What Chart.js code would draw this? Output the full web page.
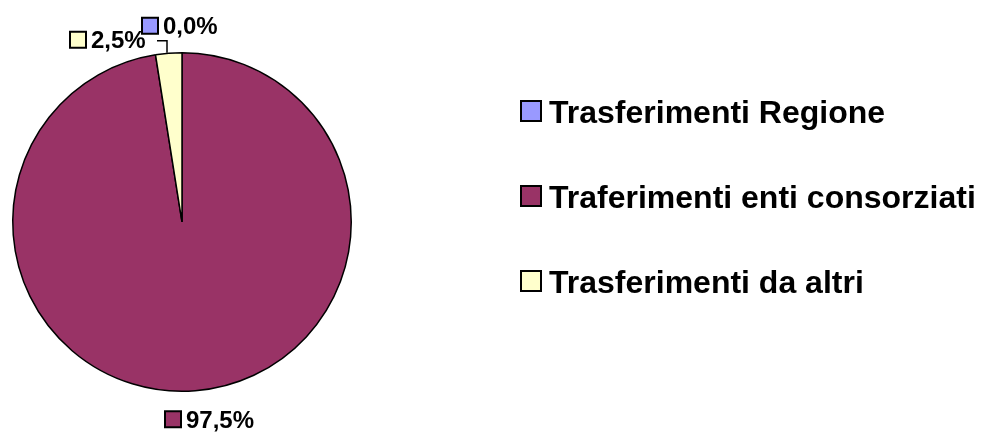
<!DOCTYPE html>
<html>
<head>
<meta charset="utf-8">
<script src="https://cdn.jsdelivr.net/npm/chart.js@4.4.0/dist/chart.umd.min.js"></script>
<style>
  html, body { margin: 0; padding: 0; background: #fff; }
  #wrap { width: 981px; height: 432px; }
</style>
</head>
<body>
<div id="wrap"><canvas id="myChart" width="981" height="432"></canvas></div>
<script>
// dati del grafico
const labels_n = ["Trasferimenti Regione", "Traferimenti enti consorziati", "Trasferimenti da altri"];
const data_n = [0.0, 97.5, 2.5];
const colori = ["#9999FF", "#993366", "#FFFFCC"];
const etichette = ["0,0%", "97,5%", "2,5%"];

// legenda disegnata a destra
const legendaPlugin = {
	id: "legenda",
	afterDraw(chart) {
		const c = chart.ctx;
		c.save();
		c.font = "bold 32px 'Liberation Sans', Arial, sans-serif";
		c.textBaseline = "alphabetic";
		for (let i = 0; i < labels_n.length; i++) {
			let y = 111 + i * 85;
			c.fillStyle = colori[i];
			c.fillRect(521, y - 10, 20, 20);
			c.strokeStyle = "#000";
			c.lineWidth = 2;
			c.strokeRect(521, y - 10, 20, 20);
			c.fillStyle = "#000";
			c.fillText(labels_n[i], 549, y + 11.5);
		}
		c.restore();
	}
};

// etichette percentuali
const etichettePlugin = {
	id: "etichette",
	afterDraw(chart) {
		const c = chart.ctx;
		const arcs = chart.getDatasetMeta(0).data;
		const cx = arcs[0].x, cy = arcs[0].y, r = arcs[0].outerRadius;
		c.save();
		c.font = "bold 24px 'Liberation Sans', Arial, sans-serif";
		c.textBaseline = "alphabetic";
		// posizione rispetto al centro della torta
		const pos = [
			[cx - 40, cy - r - 27],
			[cx - 17, cy + r + 28],
			[cx - 112, cy - r - 13]
		];
		for (let i = 0; i < etichette.length; i++) {
			let x = pos[i][0], y = pos[i][1];
			c.fillStyle = colori[i];
			c.fillRect(x, y - 8, 16, 16);
			c.strokeStyle = "#000";
			c.lineWidth = 2;
			c.strokeRect(x, y - 8, 16, 16);
			c.fillStyle = "#000";
			c.fillText(etichette[i], x + 21, y + 8.5);
		}
		// linea di richiamo per 2,5%
		c.beginPath();
		c.lineWidth = 1.5;
		c.moveTo(cx - 25, cy - r - 12);
		c.lineTo(cx - 15, cy - r - 12);
		c.lineTo(cx - 15, cy - r);
		c.stroke();
		c.restore();
	}
};

const ctx = document.getElementById("myChart").getContext("2d");
let myChart = new Chart(ctx, {
	type: "pie",
	data: {
		labels: labels_n,
		datasets: [
			{
				data: data_n,
				backgroundColor: colori,
				borderColor: "#000",
				borderWidth: 1.5,
			}
		],
	},
	options: {
		responsive: false,
		animation: false,
		layout: {
			padding: { left: 12, right: 629, top: 52, bottom: 40 },
		},
		plugins: {
			legend: { display: false },
			tooltip: { enabled: false },
		},
	},
	plugins: [legendaPlugin, etichettePlugin],
});
</script>
</body>
</html>
